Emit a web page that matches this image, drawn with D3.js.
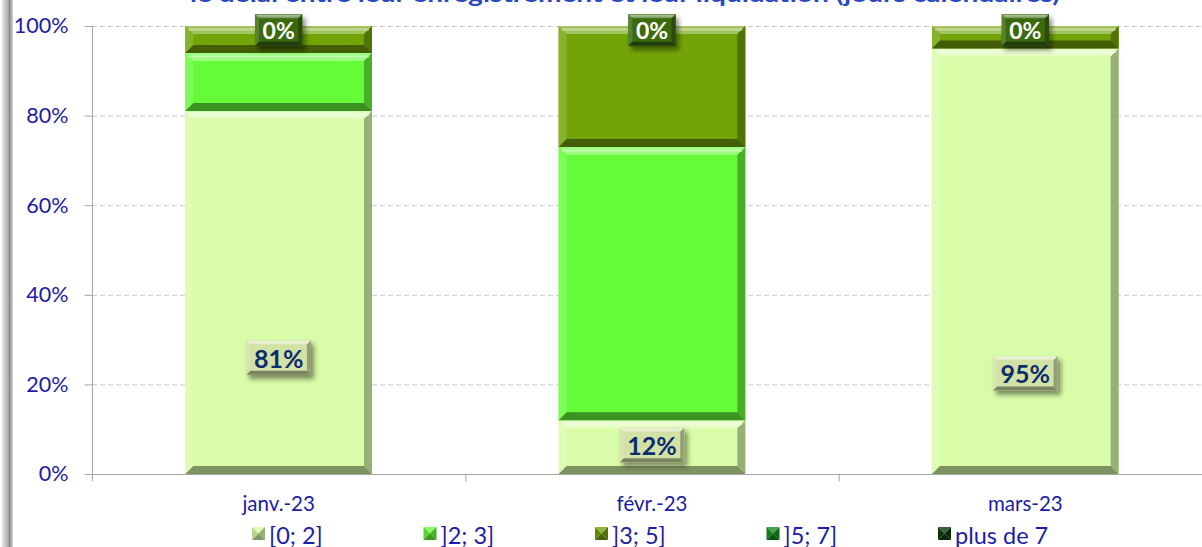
<!DOCTYPE html>
<html>
<head>
<meta charset="utf-8">
<script src="https://cdn.jsdelivr.net/npm/d3@7"></script>
<style>
  html, body { margin: 0; padding: 0; background: #fff; }
  svg { display: block; }
</style>
</head>
<body>
<svg id="chart" width="1202" height="547"></svg>
<script>
// ---------- data ----------
const categories = ["janv.-23", "févr.-23", "mars-23"];
const seriesNames = ["[0; 2]", "]2; 3]", "]3; 5]", "]5; 7]", "plus de 7"];
const s0_2 = [81, 12, 95];
const s2_3 = [13, 61, 0];
const s3_5 = [6, 27, 5];
const s5_7 = [0, 0, 0];
const sPlus7 = [0, 0, 0];
const yTicks = [0, 20, 40, 60, 80, 100];
// where the [0; 2] value labels sit, in axis units (%)
const labelAnchor = [26, 6.5, 22.5];
const titleText = "le délai entre leur enregistrement et leur liquidation (jours calendaires)";

// ---------- style ----------
const seriesColors = ["#d8fca8", "#66fb38", "#72a408", "#14901a", "#0c3c0c"];
const textBlue = "#1c1ca6";

const svg = d3.select("#chart");
const W = 1202, H = 547;
const margin = { left: 92, top: 26, bottom: 73 };
const plotRight = 1212;

const x = d3.scaleBand().domain(categories).range([margin.left, plotRight])
  .paddingInner(0.5).paddingOuter(0.25);
const y = d3.scaleLinear().domain([0, 100]).range([H - margin.bottom, margin.top]);

const defs = svg.append("defs");
const f = defs.append("filter").attr("id", "shadow").attr("x", "-30%").attr("y", "-30%")
  .attr("width", "170%").attr("height", "170%");
f.append("feDropShadow").attr("dx", 3).attr("dy", 4).attr("stdDeviation", 2.5)
  .attr("flood-color", "#000").attr("flood-opacity", 0.45);
const fb = defs.append("linearGradient").attr("id", "frame").attr("x1", 0).attr("x2", 1);
fb.append("stop").attr("offset", 0).attr("stop-color", "#e6e6e6");
fb.append("stop").attr("offset", 0.5).attr("stop-color", "#b4b4b4");
fb.append("stop").attr("offset", 0.7).attr("stop-color", "#8c8c8c");
fb.append("stop").attr("offset", 1).attr("stop-color", "#d8d8d8");

// left window frame
svg.append("rect").attr("x", 2).attr("y", 0).attr("width", 11).attr("height", H).attr("fill", "url(#frame)");

// title (mostly cut off at the top, as in the reference)
svg.append("text").attr("x", 625).attr("y", 2).attr("text-anchor", "middle")
  .attr("font-family", "Lato, 'Liberation Sans', sans-serif").attr("font-weight", "bold")
  .attr("font-size", 22).attr("fill", "#2a48c0")
  .attr("textLength", 870).attr("lengthAdjust", "spacingAndGlyphs")
  .text(titleText);

// gridlines
svg.append("g").selectAll("line").data(yTicks.filter(d => d > 0)).join("line")
  .attr("x1", margin.left).attr("x2", W)
  .attr("y1", d => y(d) + 0.5).attr("y2", d => y(d) + 0.5)
  .attr("stroke", "#c8c8c8").attr("stroke-dasharray", "5,3");

// y axis
const yAxis = d3.axisLeft(y).tickValues(yTicks).tickFormat(d => d + "%").tickSize(8).tickPadding(16);
const gy = svg.append("g").attr("transform", `translate(${margin.left + 0.5},0)`).call(yAxis);
gy.select(".domain").attr("stroke", "#a6a6a6").attr("d", `M-0,${y(100)}V${y(0) + 7}`);
gy.selectAll(".tick line").attr("stroke", "#a6a6a6");
gy.selectAll(".tick text").attr("font-family", "Lato, sans-serif").attr("font-size", 21.5)
  .attr("fill", textBlue);

// x axis
const gx = svg.append("g").attr("transform", `translate(0,${y(0) + 0.5})`);
gx.append("line").attr("x1", margin.left).attr("x2", W).attr("stroke", "#a6a6a6");
const bounds = categories.slice(1).map(c => x(c) - x.step() * x.paddingInner() / 2);
gx.selectAll("line.tk").data(bounds).join("line").attr("class", "tk")
  .attr("x1", d => d + 0.5).attr("x2", d => d + 0.5).attr("y1", 0).attr("y2", 7).attr("stroke", "#a6a6a6");
gx.selectAll("text").data(categories).join("text")
  .attr("x", d => x(d) + x.bandwidth() / 2).attr("y", 36).attr("text-anchor", "middle")
  .attr("font-family", "Lato, sans-serif").attr("font-size", 20.5).attr("fill", textBlue)
  .text(d => d);

// bevel helper
function mix(c, t, k) { return d3.interpolateRgb(c, t)(k); }
function bevelRect(g, x0, y0, w, h, color, b) {
  b = Math.min(b, h / 2, w / 2);
  if (h <= 0) return;
  const x1 = x0 + w, y1 = y0 + h;
  g.append("rect").attr("x", x0).attr("y", y0).attr("width", w).attr("height", h).attr("fill", color);
  const polys = [
    { p: [[x0, y0], [x1, y0], [x1 - b, y0 + b], [x0 + b, y0 + b]], c: mix(color, "#fff", 0.35) },
    { p: [[x0, y0], [x0 + b, y0 + b], [x0 + b, y1 - b], [x0, y1]], c: mix(color, "#fff", 0.15) },
    { p: [[x1, y0], [x1, y1], [x1 - b, y1 - b], [x1 - b, y0 + b]], c: mix(color, "#000", 0.3) },
    { p: [[x0, y1], [x0 + b, y1 - b], [x1 - b, y1 - b], [x1, y1]], c: mix(color, "#000", 0.42) }
  ];
  polys.forEach(o => g.append("polygon").attr("points", o.p.map(q => q.join(",")).join(" ")).attr("fill", o.c));
  g.append("line").attr("x1", x0 + b * 0.4).attr("x2", x1 - b * 0.4)
    .attr("y1", y0 + b * 0.45).attr("y2", y0 + b * 0.45)
    .attr("stroke", mix(color, "#fff", 0.6)).attr("stroke-width", Math.min(2, b / 3));
}

// stacked bars
const seriesValues = [s0_2, s2_3, s3_5, s5_7, sPlus7];
const table = categories.map((c, i) => {
  const row = { cat: c };
  seriesNames.forEach((s, j) => row[s] = seriesValues[j][i]);
  return row;
});
const stack = d3.stack().keys(seriesNames)(table);
const gBars = svg.append("g");
stack.forEach((layer, j) => {
  layer.forEach(d => {
    const x0 = x(d.data.cat), y0 = y(d[1]), h = y(d[0]) - y(d[1]);
    bevelRect(gBars, x0, y0, x.bandwidth(), h, seriesColors[j], 8);
  });
});

// value labels
function labelBox(cx, cy, txt, fill, color, size) {
  const g = svg.append("g");
  const t = g.append("text").attr("x", cx).attr("y", cy).attr("text-anchor", "middle")
    .attr("dominant-baseline", "central").attr("font-family", "Lato, sans-serif")
    .attr("font-weight", "bold").attr("font-size", size).attr("fill", color).text(txt);
  const bb = t.node().getBBox();
  const padX = 7.5, w = bb.width + padX * 2, h = size * 1.38;
  const box = g.insert("g", "text").attr("filter", "url(#shadow)");
  bevelRect(box, cx - w / 2, cy - h / 2, w, h, fill, 4);
}
categories.forEach((c, i) => {
  labelBox(x(c) + x.bandwidth() / 2, y(labelAnchor[i]), s0_2[i] + "%", "#d2e2a6", "#0d2c6c", 25);
});
const last = stack[stack.length - 1];
last.forEach(d => {
  labelBox(x(d.data.cat) + x.bandwidth() / 2, y((d[0] + d[1]) / 2) + 4, d.data["plus de 7"] + "%", "#3a6a10", "#ffffff", 23);
});

// legend
const lg = svg.append("g");
seriesNames.forEach((s, i) => {
  const lx = 252 + i * 171.5, ly = 527;
  const c = seriesColors[i], sz = 13;
  const tri = [
    { p: [[lx, ly], [lx + sz, ly], [lx + sz / 2, ly + sz / 2]], c: mix(c, "#fff", 0.2) },
    { p: [[lx, ly], [lx + sz / 2, ly + sz / 2], [lx, ly + sz]], c: mix(c, "#000", 0.15) },
    { p: [[lx + sz, ly], [lx + sz, ly + sz], [lx + sz / 2, ly + sz / 2]], c: mix(c, "#000", 0.3) },
    { p: [[lx, ly + sz], [lx + sz / 2, ly + sz / 2], [lx + sz, ly + sz]], c: mix(c, "#000", 0.4) }
  ];
  tri.forEach(o => lg.append("polygon").attr("points", o.p.map(q => q.join(",")).join(" ")).attr("fill", o.c));
  lg.append("text").attr("x", lx + sz + 4).attr("y", ly + sz / 2 + 1).attr("dominant-baseline", "central")
    .attr("font-family", "Lato, sans-serif").attr("font-size", 23.5).attr("fill", textBlue).text(s);
});
</script>
</body>
</html>
